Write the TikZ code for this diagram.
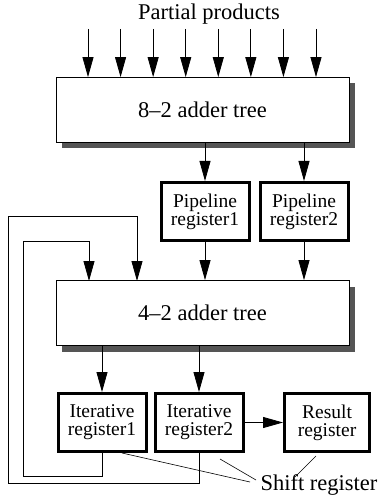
\documentclass[tikz,border=0pt]{standalone}
\usepackage{fontspec}
\setmainfont{Liberation Serif}
\usetikzlibrary{arrows.meta,shadows}
\definecolor{shadowgray}{HTML}{555555}
\tikzset{
	arr/.style={-{Triangle[length=20pt,width=11pt]}, line width=0.8pt},
	tree/.style={draw, line width=0.8pt, fill=white, minimum width=293pt, minimum height=65pt,
		font=\fontsize{22.5}{24}\selectfont,
		drop shadow={shadow xshift=6pt, shadow yshift=-6pt, fill=shadowgray, opacity=1}},
	reg/.style={draw, line width=3pt, fill=white, minimum width=88pt, minimum height=58pt,
		align=center, inner sep=0pt, font=\fontsize{19.5}{18}\selectfont}
}
\begin{document}
\begin{tikzpicture}[x=1pt,y=-1pt]
\useasboundingbox (0,0) rectangle (381,502);
\node[font=\fontsize{22.5}{24}\selectfont] (pp) at (209,14) {Partial products};
\node[tree] (tree8) at (202.5,110) {8--2 adder tree};
\node[reg] (pipe1) at (205,211.5) {Pipeline\\register1};
\node[reg] (pipe2) at (304,211.5) {Pipeline\\register2};
\node[tree] (tree4) at (202.5,313) {4--2 adder tree};
\node[reg] (iter1) at (102,422.5) {Iterative\\register1};
\node[reg] (iter2) at (199,422.5) {Iterative\\register2};
\node[reg, minimum width=85pt] (result) at (327,422.5) {Result\\register};
\node[font=\fontsize{22.5}{24}\selectfont] (shift) at (319,485) {Shift register};
% partial product inputs
\foreach \i in {0,...,7}
{
	\coordinate (in\i) at (88+32.57*\i,29);
	\draw[arr] (in\i) -- (in\i |- tree8.north);
}
\draw[arr] (tree8.south -| pipe1) -- (pipe1);
\draw[arr] (tree8.south -| pipe2) -- (pipe2);
\draw[arr] (pipe1) -- (pipe1 |- tree4.north);
\draw[arr] (pipe2) -- (pipe2 |- tree4.north);
\draw[arr] (tree4.south -| iter1) -- (iter1);
\draw[arr] (tree4.south -| iter2) -- (iter2);
\draw[arr] (iter2) -- (result);
% feedback loops
\coordinate (fb1) at (89,281);
\coordinate (fb2) at (137,281);
\draw[arr] (iter1.south) |- (23,476) |- (89,241) -- (fb1);
\draw[arr] (iter2.south) |- (8,483) |- (137,216) -- (fb2);
% shift register pointers
\draw[line width=0.6pt] ([xshift=20pt]iter1.south) -- (250,482);
\draw[line width=0.6pt] (220,459) -- (256,480);
\draw[line width=0.6pt] ([xshift=-11pt,yshift=-3pt]result.south) -- (295,477);
\end{tikzpicture}
\end{document}
